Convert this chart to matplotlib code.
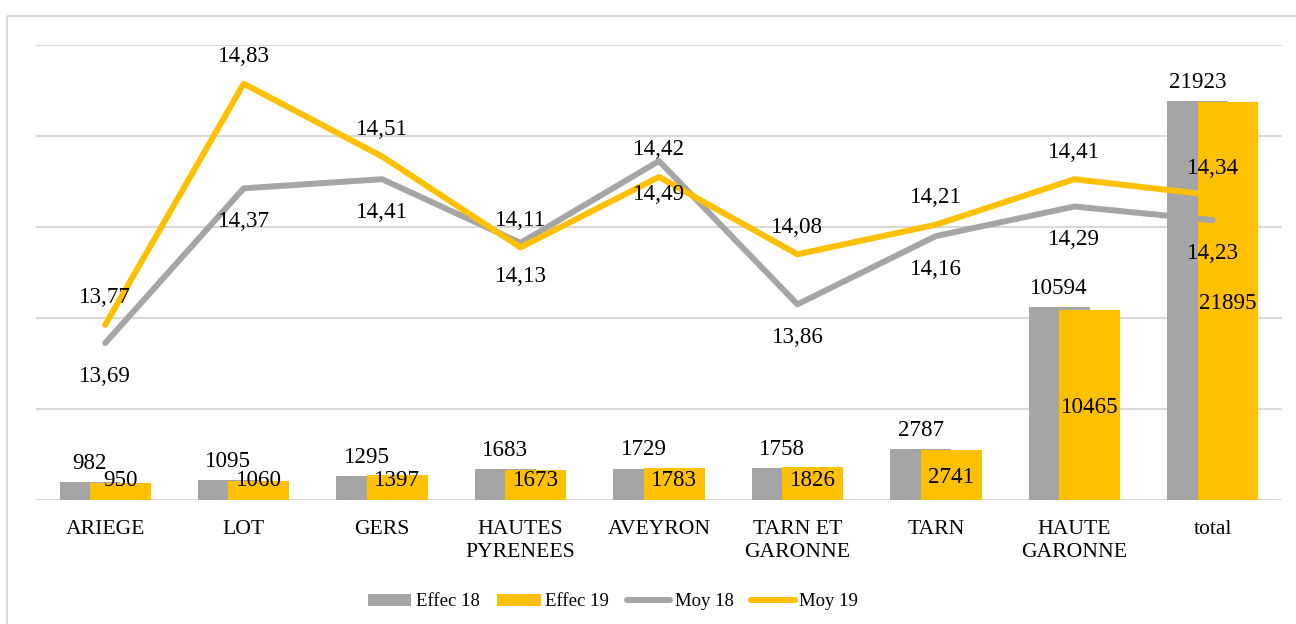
import matplotlib
matplotlib.use("Agg")
import matplotlib.pyplot as plt
from matplotlib.lines import Line2D
from matplotlib.patches import Patch
import numpy as np

categories = ["ARIEGE", "LOT", "GERS", "HAUTES\nPYRENEES", "AVEYRON",
              "TARN ET\nGARONNE", "TARN", "HAUTE\nGARONNE", "total"]
effec18 = [982, 1095, 1295, 1683, 1729, 1758, 2787, 10594, 21923]
effec19 = [950, 1060, 1397, 1673, 1783, 1826, 2741, 10465, 21895]
moy18 = [13.69, 14.37, 14.41, 14.13, 14.49, 13.86, 14.16, 14.29, 14.23]
moy19 = [13.77, 14.83, 14.51, 14.11, 14.42, 14.08, 14.21, 14.41, 14.34]

GRAY = "#A5A5A5"
GOLD = "#FFC000"
GRID = "#D9D9D9"
FONT = ["Liberation Serif", "DejaVu Serif"]
FS_NUM = 16.6
FS_CAT = 15.6

plt.rcParams["font.family"] = FONT

W, H = 1296, 624
fig = plt.figure(figsize=(W / 100, H / 100), dpi=100)
ax = fig.add_axes([36 / W, 1 - 500 / H, (1282 - 36) / W, (500 - 45) / H])
ax2 = ax.twinx()

x = np.arange(len(categories))
bw = 0.44
off = 0.11

ax.bar(x - off, effec18, width=bw, color=GRAY, zorder=2)
ax.bar(x + off, effec19, width=bw, color=GOLD, zorder=3)

ax.set_xlim(-0.5, len(categories) - 0.5)
ax.set_ylim(0, 25000)
ax.set_yticks(np.arange(0, 25001, 5000))
ax.yaxis.grid(True, color=GRID, linewidth=1.5, zorder=0)
ax.set_axisbelow(True)
ax.tick_params(axis="y", left=False, labelleft=False)
ax.tick_params(axis="x", bottom=False, pad=11)
ax.set_xticks(x)
ax.set_xticklabels(categories, fontsize=FS_CAT, linespacing=1.3, va="top")
for s in ax.spines.values():
    s.set_visible(False)
for s in ax2.spines.values():
    s.set_visible(False)

# bar labels
for i in range(len(x)):
    ax.annotate(str(effec18[i]), (x[i] - off, effec18[i]), xytext=(0, 13.5),
                textcoords="offset points", ha="center", va="center",
                fontsize=FS_NUM, zorder=5)
    yv = max(effec19[i] / 2, 1200)
    ax.annotate(str(effec19[i]), (x[i] + off, yv), xytext=(0, -2),
                textcoords="offset points", ha="center", va="center",
                fontsize=FS_NUM, zorder=5)

ax2.plot(x, moy18, color=GRAY, lw=4.3, solid_capstyle="round", zorder=4)
ax2.plot(x, moy19, color=GOLD, lw=4.3, solid_capstyle="round", zorder=4)
ax2.set_ylim(13, 15)
ax2.tick_params(axis="y", right=False, labelright=False)

def fmt(v):
    return f"{v:.2f}".replace(".", ",")

for i in range(len(x)):
    ax2.annotate(fmt(moy19[i]), (x[i], moy19[i]), xytext=(0, 19.5),
                 textcoords="offset points", ha="center", va="center",
                 fontsize=FS_NUM, zorder=6)
    ax2.annotate(fmt(moy18[i]), (x[i], moy18[i]), xytext=(0, -24),
                 textcoords="offset points", ha="center", va="center",
                 fontsize=FS_NUM, zorder=6)

handles = [Patch(facecolor=GRAY, edgecolor="none"),
           Patch(facecolor=GOLD, edgecolor="none"),
           Line2D([0], [0], color=GRAY, lw=4.3, solid_capstyle="round"),
           Line2D([0], [0], color=GOLD, lw=4.3, solid_capstyle="round")]
labels = ["Effec 18", "Effec 19", "Moy 18", "Moy 19"]
fig.legend(handles, labels, loc="center", bbox_to_anchor=(613 / W, 1 - 602 / H),
           ncol=4, frameon=False, fontsize=13.5, handlelength=2.3,
           handleheight=0.55, handletextpad=0.25, columnspacing=0.95)

# outer chart border (top and left edges visible; others run off the image)
fig.add_artist(Line2D([7 / W, 1.1], [1 - 16 / H, 1 - 16 / H],
                      transform=fig.transFigure, color=GRID, lw=1.5,
                      solid_capstyle="butt"))
fig.add_artist(Line2D([7 / W, 7 / W], [-0.1, 1 - 16 / H],
                      transform=fig.transFigure, color=GRID, lw=1.5,
                      solid_capstyle="butt"))

fig.savefig("out.png", dpi=100)
